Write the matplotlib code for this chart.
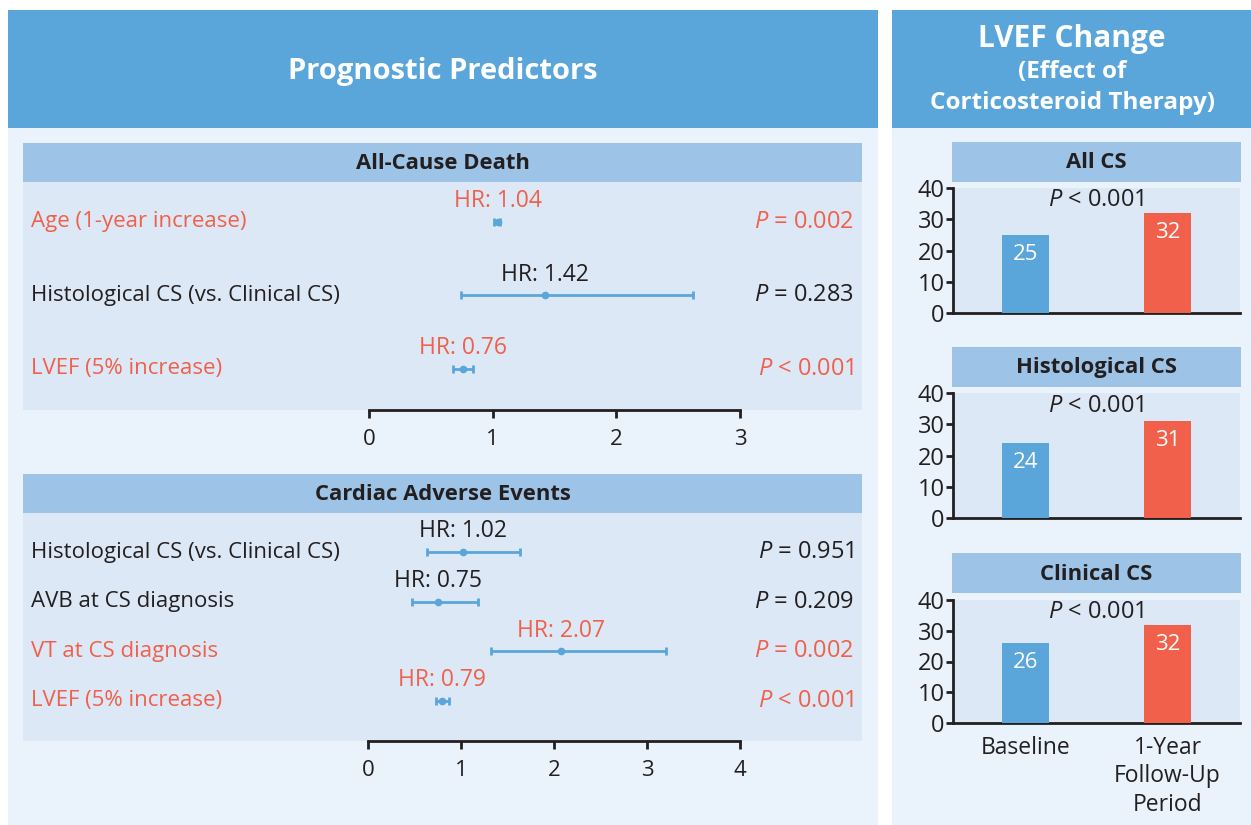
import matplotlib
matplotlib.use("Agg")
import matplotlib.pyplot as plt
from matplotlib.patches import Rectangle

# ---------------- data ----------------
death_labels = ["Age (1-year increase)", "Histological CS (vs. Clinical CS)", "LVEF (5% increase)"]
death_hr = [1.04, 1.42, 0.76]
death_lo = [1.01, 0.74, 0.68]
death_hi = [1.06, 2.62, 0.84]
death_p = ["= 0.002", "= 0.283", "< 0.001"]
death_sig = [True, False, True]
death_ticks = [0, 1, 2, 3]

cae_labels = ["Histological CS (vs. Clinical CS)", "AVB at CS diagnosis", "VT at CS diagnosis", "LVEF (5% increase)"]
cae_hr = [1.02, 0.75, 2.07, 0.79]
cae_lo = [0.63, 0.47, 1.32, 0.73]
cae_hi = [1.63, 1.18, 3.20, 0.87]
cae_p = ["= 0.951", "= 0.209", "= 0.002", "< 0.001"]
cae_sig = [False, False, True, True]
cae_ticks = [0, 1, 2, 3, 4]

lvef_groups = ["All CS", "Histological CS", "Clinical CS"]
lvef_categories = ["Baseline", "1-Year\nFollow-Up\nPeriod"]
lvef_baseline = [25, 24, 26]
lvef_followup = [32, 31, 32]
lvef_p = ["< 0.001", "< 0.001", "< 0.001"]
lvef_yticks = [0, 10, 20, 30, 40]

# ---------------- style ----------------
FONT = "Open Sans"
plt.rcParams["font.family"] = [FONT, "DejaVu Sans"]
plt.rcParams["mathtext.fontset"] = "custom"
plt.rcParams["mathtext.rm"] = FONT
plt.rcParams["mathtext.it"] = FONT + ":italic"
plt.rcParams["mathtext.bf"] = FONT + ":bold"

HEAD = "#5AA6DA"
SUBHEAD = "#9DC3E7"
BODY = "#DCE8F5"
PANEL = "#EAF2FB"
RED = "#F0604A"
BLUE = "#5AA6DA"
DARK = "#231F20"

W, H = 1251, 825
fig = plt.figure(figsize=(W / 100, H / 100), dpi=100)
fig.patch.set_facecolor("white")


def rect(x0, y0, x1, y1, color):
    fig.add_artist(Rectangle((x0 / W, 1 - y1 / H), (x1 - x0) / W, (y1 - y0) / H,
                             transform=fig.transFigure, facecolor=color, edgecolor="none", zorder=0))


def ftext(x, y, s, **kw):
    fig.text(x / W, 1 - y / H, s, **kw)


def axes_px(x0, y0, x1, y1):
    return fig.add_axes([x0 / W, 1 - y1 / H, (x1 - x0) / W, (y1 - y0) / H])


# panels
rect(8, 10, 878, 825, PANEL)
rect(8, 10, 878, 128, HEAD)
rect(892, 10, 1251, 825, PANEL)
rect(892, 10, 1251, 128, HEAD)

ftext(443, 71, "Prognostic Predictors", ha="center", va="center", color="white",
      fontsize=21, fontweight="bold")
ftext(1072, 39, "LVEF Change", ha="center", va="center", color="white", fontsize=21.5, fontweight="bold")
ftext(1072, 72, "(Effect of", ha="center", va="center", color="white", fontsize=17.5, fontweight="bold")
ftext(1072, 103, "Corticosteroid Therapy)", ha="center", va="center", color="white", fontsize=17.5,
      fontweight="bold")

LS = 16  # label size


def forest(box, head_box, title, labels, hr, lo, hi, pv, sig, ticks, x0px, x1px, ylim):
    hx0, hy0, hx1, hy1 = head_box
    rect(hx0, hy0, hx1, hy1, SUBHEAD)
    ftext((hx0 + hx1) / 2, (hy0 + hy1) / 2 + 1, title, ha="center", va="center", color=DARK,
          fontsize=15.8, fontweight="bold")
    bx0, by0, bx1, by1 = box
    ax = axes_px(bx0, by0, bx1, by1)
    ax.set_facecolor(BODY)
    tmax = ticks[-1]
    ppu = (x1px - x0px) / tmax
    ax.set_xlim((bx0 - x0px) / ppu, (bx1 - x0px) / ppu)
    ax.set_ylim(*ylim)
    for s in ["top", "left", "right"]:
        ax.spines[s].set_visible(False)
    ax.spines["bottom"].set_bounds(0, tmax)
    ax.spines["bottom"].set_linewidth(2)
    ax.spines["bottom"].set_color(DARK)
    ax.set_xticks(ticks)
    ax.set_xticklabels([str(t) for t in ticks])
    ax.tick_params(axis="x", length=6, width=2, color=DARK, labelsize=LS, pad=8, labelcolor=DARK)
    ax.set_yticks([])
    ytr = ax.get_yaxis_transform()
    for i in range(len(labels)):
        c = RED if sig[i] else DARK
        ax.errorbar(hr[i], i, xerr=[[hr[i] - lo[i]], [hi[i] - hr[i]]], fmt="o", color=BLUE,
                    ms=4.5, elinewidth=2, capsize=3, capthick=2, zorder=3)
        ax.annotate("HR: %.2f" % hr[i], (hr[i], i), xytext=(0, 15), textcoords="offset points",
                    ha="center", va="center", color=c, fontsize=16.5)
        ax.text(8 / (bx1 - bx0), i, labels[i], transform=ytr, ha="left", va="center", color=c,
                fontsize=LS)
        ax.text(1 - 8 / (bx1 - bx0), i, r"$\it{P}$ " + pv[i], transform=ytr, ha="right",
                va="center", color=c, fontsize=17)
    return ax


forest((23, 182, 862, 410), (23, 143, 862, 182), "All-Cause Death", death_labels, death_hr,
       death_lo, death_hi, death_p, death_sig, death_ticks, 369, 740, (2.557, -0.539))
forest((23, 513, 862, 741), (23, 474, 862, 513), "Cardiac Adverse Events", cae_labels, cae_hr,
       cae_lo, cae_hi, cae_p, cae_sig, cae_ticks, 368.3, 740, (3.81, -0.794))

# LVEF bar charts
bar_boxes = [(142, 182, 188, 313), (347, 387, 393, 518), (553, 593, 600, 723)]
for g, (hy0, hy1, ay0, ay1) in enumerate(bar_boxes):
    rect(952, hy0, 1241, hy1, SUBHEAD)
    ftext(1096, (hy0 + hy1) / 2 + 1, lvef_groups[g], ha="center", va="center", color=DARK,
          fontsize=15.8, fontweight="bold")
    ax = axes_px(953, ay0, 1240, ay1)
    ax.set_facecolor(BODY)
    vals = [lvef_baseline[g], lvef_followup[g]]
    bars = ax.bar([0, 1], vals, width=0.33, color=[BLUE, RED], zorder=3)
    for b, v in zip(bars, vals):
        ax.annotate(str(v), (b.get_x() + b.get_width() / 2, v), xytext=(0, -14),
                    textcoords="offset points", ha="center", va="center", color="white",
                    fontsize=16)
    ax.set_xlim(-0.51, 1.51)
    ax.set_ylim(0, 40)
    ax.set_yticks(lvef_yticks)
    ax.tick_params(axis="y", length=5, width=2, color=DARK, labelsize=17, pad=1, labelcolor=DARK)
    for s in ["top", "right"]:
        ax.spines[s].set_visible(False)
    for s in ["left", "bottom"]:
        ax.spines[s].set_linewidth(2)
        ax.spines[s].set_color(DARK)
    ax.text(0.5, 0.9, r"$\it{P}$ " + lvef_p[g], transform=ax.transAxes, ha="center", va="center",
            color=DARK, fontsize=17)
    if g == len(bar_boxes) - 1:
        ax.set_xticks([0, 1])
        ax.set_xticklabels(lvef_categories, fontsize=16.5, color=DARK, linespacing=1.27, va="top")
        ax.tick_params(axis="x", length=0, pad=9)
    else:
        ax.set_xticks([])

fig.savefig("out.png", dpi=100, facecolor="white")
